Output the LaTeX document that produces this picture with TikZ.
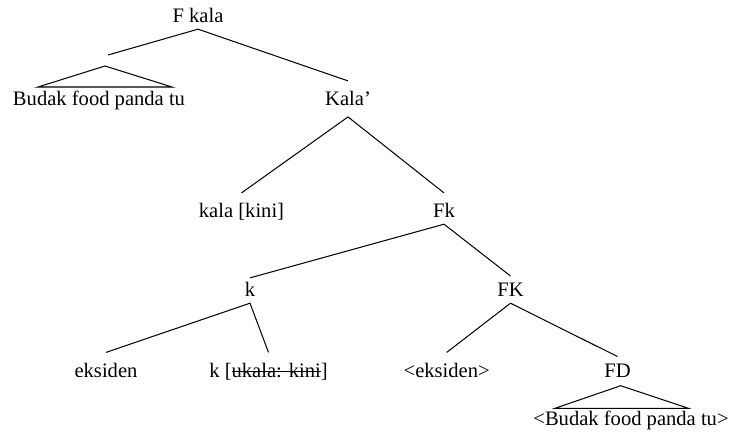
\documentclass[tikz,border=0pt]{standalone}
\usepackage{fontspec}
\setmainfont{Liberation Serif}
\newcommand{\strikeout}[1]{\sbox0{#1}\rlap{\rule[0.23em]{\wd0}{0.7pt}}\usebox0}
\begin{document}
\begin{tikzpicture}[x=0.486pt,y=-0.486pt,line width=0.5pt,
    lbl/.style={anchor=base,inner sep=3pt,text height=8.7pt,text depth=-1.7pt,font=\fontsize{10}{12}\selectfont}]
    \useasboundingbox (0,0) rectangle (729,432);

    \node[lbl] (fkala) at (198,22.5) {F kala};
    \node[lbl] (budak) at (99,105.5) {Budak food panda tu};
    \node[lbl] (kalap) at (348,105.5) {Kala'};
    \node[lbl] (kalakini) at (241.5,217.5) {kala [kini]};
    \node[lbl] (fkk) at (444,217.5) {Fk};
    \node[lbl] (k) at (250,296.5) {k};
    \node[lbl] (fkbig) at (510.5,296.5) {FK};
    \node[lbl] (eksiden) at (106,377) {eksiden};
    \node[lbl] (kukala) at (268.5,377) {k [\strikeout{ukala: kini}]};
    \node[lbl] (eksidenb) at (446.7,377) {<eksiden>};
    \node[lbl] (fd) at (617.5,377) {FD};
    \node[lbl] (budakb) at (631,425) {<Budak food panda tu>};

    \coordinate (budakup) at (108,55);
    \coordinate (budaktip) at (105,66);
    \coordinate (fdtip) at (620.7,385.7);

    \draw (fkala.south) -- (budakup);
    \draw (fkala.south) -- (kalap.north);
    \draw (budaktip) -- ++(-67,21) -- ++(134,0) -- cycle;

    \draw ([yshift=-2.3pt]kalap.south) -- (kalakini.north);
    \draw ([yshift=-2.3pt]kalap.south) -- (fkk.north);

    \draw (fkk.south) -- ([yshift=-2.9pt]k.north);
    \draw (fkk.south) -- ([yshift=-2pt]fkbig.north);

    \draw (k.south) -- (eksiden.north);
    \draw (k.south) -- (kukala.north);

    \draw (fkbig.south) -- (eksidenb.north);
    \draw (fkbig.south) -- ([yshift=-2pt]fd.north);

    \draw (fdtip) -- ++(-65.7,22.6) -- ++(133.3,0) -- cycle;
  \end{tikzpicture}
\end{document}
